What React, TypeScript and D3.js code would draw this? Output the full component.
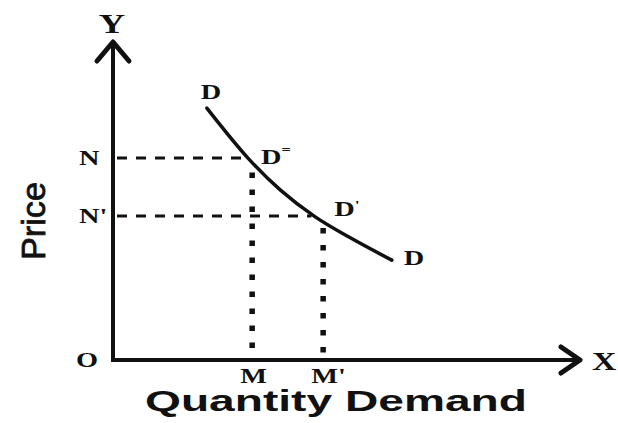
import React from "react";
import * as d3 from "d3";

// demand curve, in quantity / price units (0-100 on both axes)
const curveQty = [20.1, 28.9, 35.8, 43.3, 51.2, 59.7];
const curvePrice = [79.2, 63.5, 53.5, 45.0, 38.1, 31.4];

// price levels and the quantities they give
const priceLevels = [63.5, 45.3];
const priceLabels = ["N", "N'"];
const dashTo = [28.9, 42.5];
const qtyLevels = [29.8, 45.0];
const qtyLabels = ["M", "M'"];
const dotFrom = [59, 41.5];

const W = 618;
const H = 423;

export default function App() {
  const x = d3.scaleLinear().domain([0, 100]).range([113, 580]);
  const y = d3.scaleLinear().domain([0, 100]).range([360, 42]);

  const pts = curveQty.map((q, i) => [q, curvePrice[i]] as [number, number]);
  const line = d3
    .line<[number, number]>()
    .x(d => x(d[0]))
    .y(d => y(d[1]))
    .curve(d3.curveCatmullRom.alpha(0.5));

  const x0 = x(0);
  const y0 = y(0);
  const serif = "'Liberation Serif', 'DejaVu Serif', serif";
  const sans = "'Liberation Sans', Arial, sans-serif";
  const lab = (tx: number, ty: number) => `translate(${tx},${ty}) scale(1.35,1)`;

  const first = pts[0];
  const last = pts[pts.length - 1];

  return (
    <svg
      width={W}
      height={H}
      style={{ position: "absolute", left: 0, top: 0, background: "#fff" }}
    >
      <rect width={W} height={H} fill="#fff" />

      {/* dashed price lines */}
      {priceLevels.map((p, i) => (
        <line
          key={"h" + i}
          x1={x0 + 4}
          x2={x(dashTo[i])}
          y1={y(p)}
          y2={y(p)}
          stroke="#111"
          strokeWidth={3}
          strokeDasharray="10,9"
        />
      ))}

      {/* dotted quantity lines */}
      {qtyLevels.map((q, i) => (
        <line
          key={"v" + i}
          x1={x(q)}
          x2={x(q)}
          y1={y(dotFrom[i])}
          y2={y0}
          stroke="#111"
          strokeWidth={5.5}
          strokeDasharray="5.5,11.5"
        />
      ))}

      {/* axes */}
      <line x1={x0} x2={x0} y1={y0 + 2} y2={y(100)} stroke="#111" strokeWidth={4} />
      <line x1={x0 - 2} x2={x(100)} y1={y0} y2={y0} stroke="#111" strokeWidth={4} />
      <path
        d={`M${x0 - 16},${y(100) + 19} L${x0},${y(100)} L${x0 + 16},${y(100) + 19}`}
        fill="none"
        stroke="#111"
        strokeWidth={5}
        strokeLinecap="round"
        strokeLinejoin="round"
      />
      <path
        d={`M${x(100) - 19},${y0 - 13} L${x(100)},${y0} L${x(100) - 19},${y0 + 13}`}
        fill="none"
        stroke="#111"
        strokeWidth={5}
        strokeLinecap="round"
        strokeLinejoin="round"
      />

      {/* demand curve */}
      <path d={line(pts) || ""} fill="none" stroke="#111" strokeWidth={3.5} strokeLinecap="round" />

      <g fontFamily={serif} fontWeight="bold" fill="#111" fontSize={21}>
        <text transform={lab(x0 - 1, 33)} textAnchor="middle" fontSize={27}>Y</text>
        <text transform={lab(x(100) + 12, y0 + 10)} fontSize={25}>X</text>
        <text transform={lab(x0 - 26, y0 + 7)} textAnchor="middle">O</text>
        {priceLabels.map((t, i) => (
          <text key={t} transform={lab(x0 - 34, y(priceLevels[i]) + 7)}>{t}</text>
        ))}
        {qtyLabels.map((t, i) => (
          <text key={t} transform={lab(x(qtyLevels[i]) - 12, y0 + 23)}>{t}</text>
        ))}
        <text transform={lab(x(first[0]) - 6, y(first[1]) - 9)}>D</text>
        <text transform={lab(x(last[0]) + 12, y(last[1]) + 5)}>D</text>
        <text transform={lab(x(curveQty[1]) + 13, y(curvePrice[1]) + 6)}>
          D<tspan fontSize={12} dy={-10}>=</tspan>
        </text>
        <text transform={lab(x(curveQty[3]) + 19, y(curvePrice[3]) - 1)}>
          D<tspan fontSize={13} dy={-7}>'</tspan>
        </text>
      </g>

      <g fontFamily={sans} fontWeight="bold" fill="#111">
        <text
          x={145}
          y={411}
          fontSize={29}
          textLength={382}
          lengthAdjust="spacingAndGlyphs"
        >
          Quantity Demand
        </text>
        <text
          transform="translate(45,260) rotate(-90)"
          fontSize={34}
          textLength={78}
          lengthAdjust="spacingAndGlyphs"
          fontWeight="normal"
          stroke="#111"
          strokeWidth={0.8}
        >
          Price
        </text>
      </g>
    </svg>
  );
}
